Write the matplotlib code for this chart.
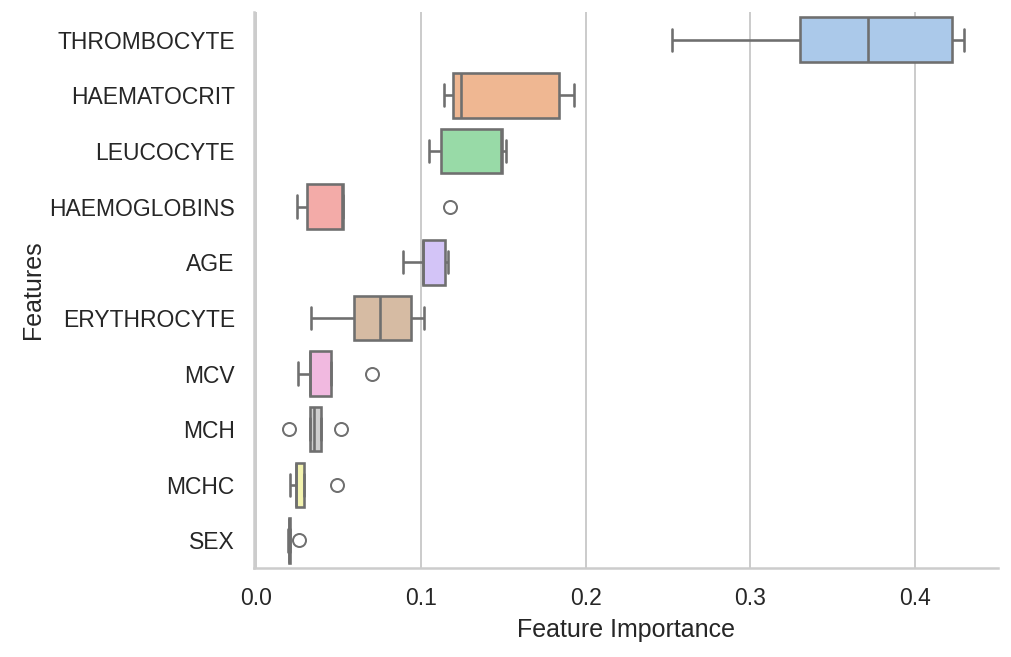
import numpy as np
import pandas as pd
import matplotlib
matplotlib.use("Agg")
import matplotlib.pyplot as plt
import seaborn as sns

# feature importances per fold
features = ["THROMBOCYTE", "HAEMATOCRIT", "LEUCOCYTE", "HAEMOGLOBINS", "AGE",
            "ERYTHROCYTE", "MCV", "MCH", "MCHC", "SEX"]

thrombocyte = [0.2521, 0.3303, 0.3715, 0.4224, 0.4297]
haematocrit = [0.1138, 0.1191, 0.1240, 0.1837, 0.1928]
leucocyte = [0.1045, 0.1118, 0.1483, 0.1491, 0.1513]
haemoglobins = [0.0246, 0.0307, 0.0522, 0.0523, 0.1177]
age = [0.0889, 0.1009, 0.1010, 0.1145, 0.1163]
erythrocyte = [0.0331, 0.0590, 0.0750, 0.0940, 0.1017]
mcv = [0.0250, 0.0323, 0.0324, 0.0454, 0.0703]
mch = [0.0199, 0.0325, 0.0349, 0.0392, 0.0515]
mchc = [0.0205, 0.0240, 0.0242, 0.0287, 0.0491]
sex = [0.0189, 0.0197, 0.0200, 0.0204, 0.0259]

values = [thrombocyte, haematocrit, leucocyte, haemoglobins, age,
          erythrocyte, mcv, mch, mchc, sex]

rows = []
for name, vals in zip(features, values):
    for v in vals:
        rows.append({"Features": name, "Feature Importance": v})
df = pd.DataFrame(rows)

sns.set_theme(style="whitegrid", font_scale=1.04)
plt.rcParams["font.family"] = ["Liberation Sans", "DejaVu Sans"]

fig, ax = plt.subplots(figsize=(1011 / 144, 657 / 144), dpi=144)
sns.boxplot(data=df, x="Feature Importance", y="Features", hue="Features",
            order=features, palette="pastel", legend=False, linewidth=1.3,
            flierprops={"markersize": 6.5}, ax=ax)
sns.despine()
ax.set_xticks([0.0, 0.1, 0.2, 0.3, 0.4])
ax.yaxis.labelpad = 2

fig.subplots_adjust(left=0.251, right=0.987, top=0.982, bottom=0.135)
fig.savefig("out.png", dpi=144)
